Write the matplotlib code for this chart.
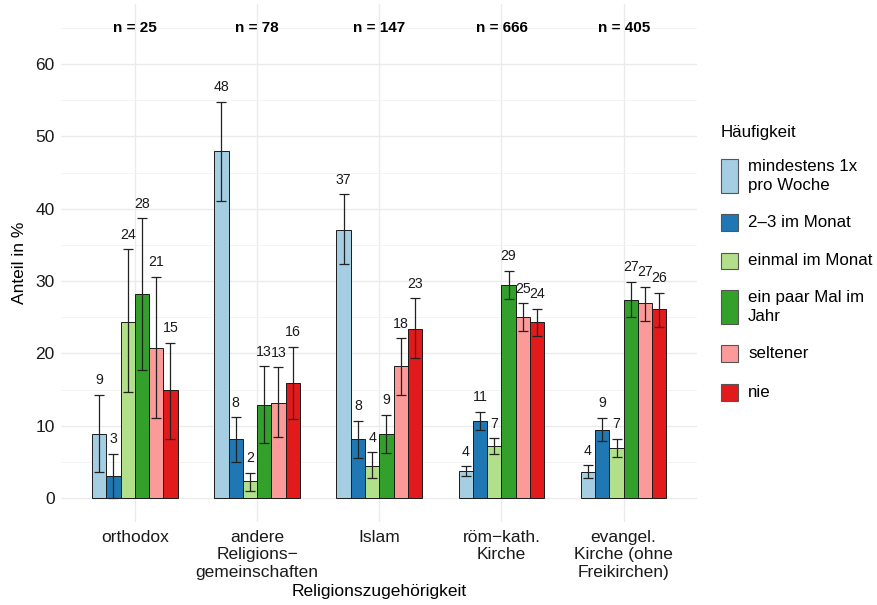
import matplotlib
matplotlib.use("Agg")
import matplotlib.pyplot as plt
from matplotlib.patches import Rectangle
import numpy as np

plt.rcParams['font.family'] = ['Liberation Sans', 'DejaVu Sans']

# data
religions = ["orthodox", "andere\nReligions\u2212\ngemeinschaften", "Islam",
             "r\u00f6m\u2212kath.\nKirche", "evangel.\nKirche (ohne\nFreikirchen)"]
n_counts = [25, 78, 147, 666, 405]
freq = ["mindestens 1x\npro Woche", "2\u20133 im Monat", "einmal im Monat",
        "ein paar Mal im\nJahr", "seltener", "nie"]
colors = ["#A6CEE3", "#1F78B4", "#B2DF8A", "#33A02C", "#FB9A99", "#E31A1C"]

# share per religion (rows) and frequency (columns), with CI bounds
share = [
    [8.9, 3.0, 24.4, 28.2, 20.8, 14.9],
    [48.0, 8.2, 2.3, 12.9, 13.2, 15.9],
    [37.1, 8.1, 4.4, 8.8, 18.2, 23.4],
    [3.7, 10.6, 7.2, 29.4, 25.0, 24.3],
    [3.6, 9.4, 6.9, 27.4, 26.9, 26.1],
]
lower = [
    [3.6, 0.0, 14.6, 17.7, 11.0, 8.2],
    [41.1, 5.0, 1.0, 7.6, 8.5, 10.9],
    [32.4, 5.5, 2.8, 6.2, 14.3, 19.4],
    [3.0, 9.4, 6.1, 27.5, 23.1, 22.4],
    [2.8, 7.9, 5.6, 25.0, 24.5, 23.6],
]
upper = [
    [14.3, 6.1, 34.4, 38.7, 30.6, 21.5],
    [54.8, 11.2, 3.5, 18.2, 18.1, 20.9],
    [42.0, 10.7, 6.3, 11.5, 22.1, 27.6],
    [4.4, 11.9, 8.3, 31.4, 26.9, 26.2],
    [4.5, 11.1, 8.2, 29.9, 29.2, 28.4],
]

share = np.array(share)
lower = np.array(lower)
upper = np.array(upper)

fig = plt.figure(figsize=(8.78, 6.05), dpi=100)
ax = fig.add_axes([61.5 / 878, 1 - 521.5 / 605, (697 - 61.5) / 878, (521.5 - 4.4) / 605])

x = np.arange(1, len(religions) + 1)
k = len(freq)
w = 0.7 / k
for j in range(k):
    xs = x - 0.35 + w * (j + 0.5)
    ax.bar(xs, share[:, j], width=w, color=colors[j], edgecolor="#1a1a1a",
           linewidth=0.7, zorder=2)
    ax.errorbar(xs, share[:, j], yerr=[share[:, j] - lower[:, j], upper[:, j] - share[:, j]],
                fmt="none", ecolor="#222222", elinewidth=0.9, capsize=3.5,
                capthick=0.9, zorder=3)
    for xi, v, u in zip(xs, share[:, j], upper[:, j]):
        ax.text(xi, u + 2.0, f"{v:.0f}", ha="center", va="center",
                fontsize=10.2, color="#1a1a1a", zorder=4)

for xi, n in zip(x, n_counts):
    ax.text(xi, 65, f"n = {n}", ha="center", va="center", fontsize=11,
            fontweight="bold", color="black")

ax.set_xlim(0.4, 5.6)
ax.set_ylim(-3.25, 68.25)
ax.set_yticks([0, 10, 20, 30, 40, 50, 60])
ax.set_yticks([5, 15, 25, 35, 45, 55, 65], minor=True)
ax.set_xticks(x)
ax.set_xticklabels(religions, linespacing=1.2)
ax.tick_params(axis="both", length=0, labelsize=12.5, labelcolor="#1a1a1a")
ax.tick_params(axis="x", pad=6)
ax.tick_params(axis="y", pad=5)
ax.tick_params(which="minor", length=0)
ax.grid(True, which="major", color="#EBEBEB", linewidth=1.0, zorder=0)
ax.grid(True, which="minor", axis="y", color="#F2F2F2", linewidth=0.6, zorder=0)
ax.set_axisbelow(True)
for s in ax.spines.values():
    s.set_visible(False)

ax.set_ylabel("Anteil in %", fontsize=12.5, labelpad=6)
ax.set_xlabel("Religionszugeh\u00f6rigkeit", fontsize=12.5, labelpad=3)

# legend drawn by hand to get the tall keys of two-line entries
fig.text(721 / 878, 1 - 132 / 605, "H\u00e4ufigkeit", fontsize=12.2,
         ha="left", va="center")
key_tops = [159, 214, 252.5, 290, 345, 384]
key_heights = [34, 17, 16.5, 34, 17, 16.5]
for c, lab, top, h in zip(colors, freq, key_tops, key_heights):
    fig.patches.append(Rectangle((721.5 / 878, 1 - (top + h) / 605), 17 / 878, h / 605,
                                 transform=fig.transFigure, facecolor=c,
                                 edgecolor="#555555", linewidth=0.8))
    fig.text(748 / 878, 1 - (top + h / 2) / 605, lab, fontsize=12.2,
             ha="left", va="center", linespacing=1.3)

fig.savefig("out.png", dpi=100)
